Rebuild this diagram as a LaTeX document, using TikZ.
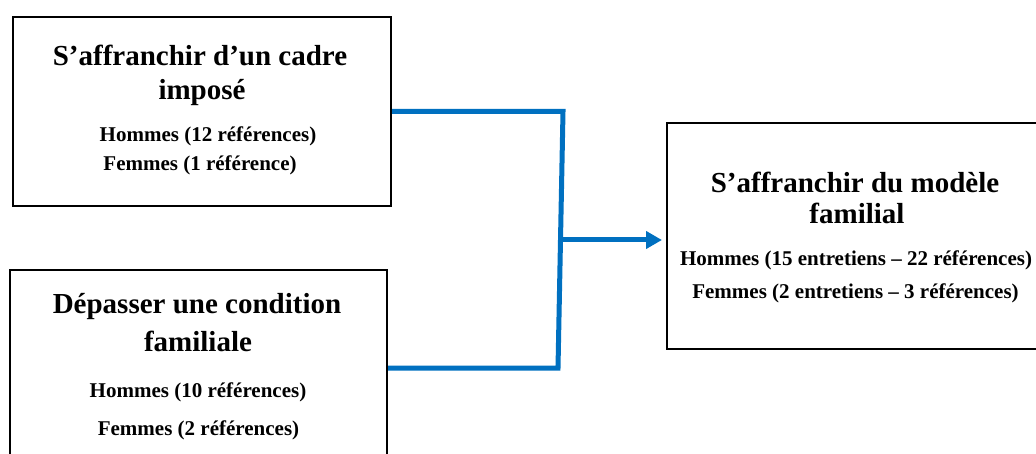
\documentclass[tikz,border=0pt]{standalone}
\usepackage{fontspec}
\setmainfont{Liberation Serif}
\usetikzlibrary{arrows.meta}
\definecolor{linkblue}{HTML}{0070C0}
\tikzset{
  box/.style={draw=black, line width=2pt, minimum width=#1, inner sep=0pt},
  ttl/.style={font=\bfseries\fontsize{29}{32}\selectfont, anchor=base, inner sep=0pt},
  sub/.style={font=\bfseries\fontsize{21}{24}\selectfont, anchor=base, inner sep=0pt},
  link/.style={draw=linkblue, line width=5pt},
}
\begin{document}
\begin{tikzpicture}[x=1pt,y=-1pt]
\useasboundingbox (0,0) rectangle (1036,454);
% boxes
\node[box=378pt, minimum height=189pt] (b1) at (202,111.5) {};
\node[box=377pt, minimum height=190pt] (b2) at (198.5,365) {};
\node[box=378pt, minimum height=226pt] (b3) at (856,236) {};
% texts box 1
\node[ttl] (t1a) at (200,66) {S’affranchir d’un cadre};
\node[ttl] (t1b) at (202,100) {imposé};
\node[sub] (t1c) at (208,142) {Hommes (12 références)};
\node[sub] (t1d) at (200,171) {Femmes (1 référence)};
% texts box 2
\node[ttl] (t2a) at (197,313) {Dépasser une condition};
\node[ttl] (t2b) at (198,352) {familiale};
\node[sub] (t2c) at (198,397) {Hommes (10 références)};
\node[sub] (t2d) at (198.5,435) {Femmes (2 références)};
% texts box 3
\node[ttl] (t3a) at (855,193) {S’affranchir du modèle};
\node[ttl] (t3b) at (857,224) {familial};
\node[sub] (t3c) at (856,266) {Hommes (15 entretiens – 22 références)};
\node[sub] (t3d) at (855.5,299) {Femmes (2 entretiens – 3 références)};
% connectors
\coordinate (j1) at (563,111.5);
\coordinate (j2) at (558,368);
\coordinate (jm) at (561,240);
\draw[link, line join=miter] (b1.east |- j1) -- (j1) -- (j2) -- (b2.east |- j2);
\draw[link, -{Triangle[length=16pt,width=17pt]}, shorten >=4pt] (jm) -- (b3.west |- jm);
\end{tikzpicture}
\end{document}
